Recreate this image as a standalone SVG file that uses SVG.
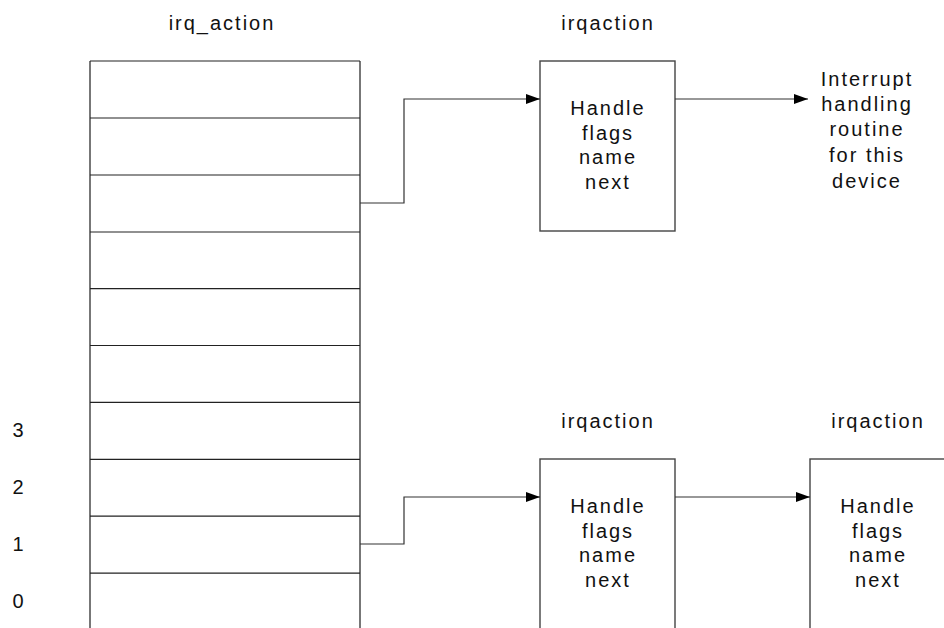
<svg xmlns="http://www.w3.org/2000/svg" width="944" height="628" viewBox="0 0 944 628">
<style>
text{font-family:"Liberation Sans",Arial,sans-serif;font-size:20px;fill:#111;letter-spacing:2px}
.c{text-anchor:middle}
.num{letter-spacing:0}
.v{stroke:#555;stroke-width:1.6;fill:none}
.h{stroke:#222;stroke-width:1.2;fill:none}
.box{stroke:#444;stroke-width:1.4;fill:#fff}
.conn{stroke:#333;stroke-width:1.2;fill:none}
</style>
<defs>
<marker id="ah" markerWidth="14" markerHeight="10" refX="14" refY="5" orient="auto" markerUnits="userSpaceOnUse">
<path d="M0,0 L14,5 L0,10 Z" fill="#000"/>
</marker>
</defs>
<rect width="944" height="628" fill="#fff"/>
<g id="irq_action_table">
<text class="c" x="222" y="30">irq_action</text>
<line class="v" x1="90" y1="61" x2="90" y2="628"/>
<line class="v" x1="360" y1="61" x2="360" y2="628"/>
<line class="h" x1="90" y1="61" x2="360" y2="61"/>
<line class="h" x1="90" y1="118" x2="360" y2="118"/>
<line class="h" x1="90" y1="175" x2="360" y2="175"/>
<line class="h" x1="90" y1="232" x2="360" y2="232"/>
<line class="h" x1="90" y1="288.6" x2="360" y2="288.6"/>
<line class="h" x1="90" y1="345.5" x2="360" y2="345.5"/>
<line class="h" x1="90" y1="402.4" x2="360" y2="402.4"/>
<line class="h" x1="90" y1="459.3" x2="360" y2="459.3"/>
<line class="h" x1="90" y1="516.2" x2="360" y2="516.2"/>
<line class="h" x1="90" y1="573.1" x2="360" y2="573.1"/>
<text class="c num" x="18" y="437">3</text>
<text class="c num" x="18" y="494">2</text>
<text class="c num" x="18" y="551">1</text>
<text class="c num" x="18" y="608">0</text>
</g>
<g id="irqaction1">
<text class="c" x="608" y="30">irqaction</text>
<rect class="box" x="540" y="61" width="135" height="170"/>
<text class="c" x="608" y="115">Handle</text>
<text class="c" x="608" y="140">flags</text>
<text class="c" x="608" y="164">name</text>
<text class="c" x="608" y="189">next</text>
</g>
<g id="handler">
<text class="c" x="867" y="86">Interrupt</text>
<text class="c" x="867" y="111">handling</text>
<text class="c" x="867" y="136">routine</text>
<text class="c" x="867" y="162">for this</text>
<text class="c" x="867" y="188">device</text>
</g>
<g id="irqaction2">
<text class="c" x="608" y="428">irqaction</text>
<rect class="box" x="540" y="459" width="135" height="175"/>
<text class="c" x="608" y="513">Handle</text>
<text class="c" x="608" y="538">flags</text>
<text class="c" x="608" y="562">name</text>
<text class="c" x="608" y="587">next</text>
</g>
<g id="irqaction3">
<text class="c" x="878" y="428">irqaction</text>
<rect class="box" x="810" y="459" width="140" height="175"/>
<text class="c" x="878" y="513">Handle</text>
<text class="c" x="878" y="538">flags</text>
<text class="c" x="878" y="562">name</text>
<text class="c" x="878" y="587">next</text>
</g>
<g id="connectors">
<polyline class="conn" points="360,203 404,203 404,99 540,99" marker-end="url(#ah)"/>
<polyline class="conn" points="675,99 808,99" marker-end="url(#ah)"/>
<polyline class="conn" points="360,544 404,544 404,497 540,497" marker-end="url(#ah)"/>
<polyline class="conn" points="675,497 810,497" marker-end="url(#ah)"/>
</g>
</svg>
